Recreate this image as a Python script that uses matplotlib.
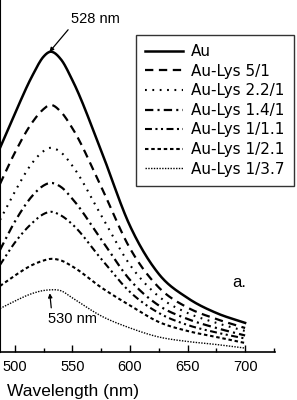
import numpy as np
import matplotlib
matplotlib.use('Agg')
import matplotlib.pyplot as plt
from matplotlib.ticker import MultipleLocator

plt.rcParams['font.family'] = ['Liberation Sans', 'DejaVu Sans']
plt.rcParams['lines.scale_dashes'] = False

# wavelength grid (nm) and absorbance (arbitrary units)
wl = [487, 500, 515, 525, 530, 540, 550, 575, 600, 625, 650, 675, 700]
au = [0.68, 0.795, 0.92, 0.985, 1.0, 0.975, 0.905, 0.67, 0.42, 0.26, 0.18, 0.13, 0.097]
lys_5_1 = [0.56, 0.665, 0.765, 0.81, 0.823, 0.80, 0.745, 0.55, 0.345, 0.215, 0.148, 0.11, 0.08]
lys_2_2 = [0.44, 0.535, 0.63, 0.67, 0.68, 0.665, 0.62, 0.455, 0.29, 0.185, 0.13, 0.097, 0.07]
lys_1_4 = [0.34, 0.435, 0.52, 0.555, 0.563, 0.55, 0.51, 0.375, 0.24, 0.155, 0.11, 0.08, 0.055]
lys_1_1 = [0.29, 0.365, 0.43, 0.46, 0.467, 0.455, 0.425, 0.31, 0.2, 0.13, 0.09, 0.065, 0.045]
lys_2_1 = [0.22, 0.255, 0.29, 0.305, 0.31, 0.305, 0.285, 0.215, 0.155, 0.10, 0.07, 0.05, 0.03]
lys_3_7 = [0.145, 0.17, 0.195, 0.205, 0.207, 0.204, 0.18, 0.12, 0.08, 0.05, 0.035, 0.025, 0.013]

labels = ['Au', 'Au-Lys 5/1', 'Au-Lys 2.2/1', 'Au-Lys 1.4/1',
          'Au-Lys 1/1.1', 'Au-Lys 1/2.1', 'Au-Lys 1/3.7']
series = [au, lys_5_1, lys_2_2, lys_1_4, lys_1_1, lys_2_1, lys_3_7]
styles = [
    ('-', 1.8),
    ((0, (6, 4)), 1.6),
    ((0, (1.3, 4)), 1.5),
    ((0, (6, 3, 1.5, 3)), 1.6),
    ((0, (5, 2.5, 1.5, 2.5, 1.5, 2.5)), 1.5),
    ((0, (2.5, 2)), 1.5),
    ((0, (1, 1)), 1.0),
]


def smooth(x, y):
    # cubic hermite through the read points
    x = np.asarray(x, float)
    y = np.asarray(y, float)
    xs = np.linspace(x[0], x[-1], 300)
    ys = np.empty_like(xs)
    m = np.gradient(y, x)
    for i in range(len(x) - 1):
        sel = (xs >= x[i]) & (xs <= x[i + 1])
        h = x[i + 1] - x[i]
        t = (xs[sel] - x[i]) / h
        h00 = 2 * t**3 - 3 * t**2 + 1
        h10 = t**3 - 2 * t**2 + t
        h01 = -2 * t**3 + 3 * t**2
        h11 = t**3 - t**2
        ys[sel] = h00 * y[i] + h10 * h * m[i] + h01 * y[i + 1] + h11 * h * m[i + 1]
    return xs, ys


fig = plt.figure(figsize=(2.97, 4.0), dpi=100)
ax = fig.add_axes([0.0, 0.12, 0.926, 0.88])

for y, lab, (ls, lw) in zip(series, labels, styles):
    xs, ys = smooth(wl, y)
    ax.plot(xs, ys, color='black', linestyle=ls, linewidth=lw, label=lab)

ax.set_xlim(487, 726)
ax.set_ylim(0, 1.173)
ax.spines['top'].set_visible(False)
ax.spines['right'].set_visible(False)
ax.spines['bottom'].set_linewidth(1.2)
ax.spines['left'].set_linewidth(0.8)
ax.xaxis.set_major_locator(MultipleLocator(50))
ax.xaxis.set_minor_locator(MultipleLocator(25))
ax.tick_params(axis='x', which='both', direction='in', labelsize=10.5, pad=6)
ax.tick_params(axis='x', which='major', length=5, width=1)
ax.tick_params(axis='x', which='minor', length=3, width=1)
ax.set_yticks([])
ax.set_xlabel('Wavelength (nm)', fontsize=12.5)
ax.xaxis.set_label_coords(0.025, -0.125)
ax.xaxis.label.set_horizontalalignment('left')
ax.xaxis.label.set_verticalalignment('baseline')

ax.annotate('528 nm', xy=(530, 1.0), xytext=(549, 1.11), fontsize=10.5,
            ha='left', va='center',
            arrowprops=dict(arrowstyle='-|>', color='black', lw=0.9,
                            mutation_scale=6, shrinkA=1, shrinkB=0,
                            relpos=(0, 0)))
ax.annotate('530 nm', xy=(530, 0.205), xytext=(528.5, 0.11), fontsize=10.5,
            ha='left', va='center',
            arrowprops=dict(arrowstyle='-|>', color='black', lw=0.9,
                            mutation_scale=6, shrinkA=1, shrinkB=2,
                            relpos=(0.08, 1)))
ax.text(689, 0.23, 'a.', fontsize=12, ha='left', va='center')

leg = ax.legend(loc='upper left', bbox_to_anchor=(0.458, 0.9125),
                bbox_transform=fig.transFigure,
                prop={'family': 'DejaVu Sans', 'size': 11},
                frameon=True, fancybox=False, edgecolor='black',
                handlelength=2.5, handletextpad=0.5, labelspacing=0.3,
                borderpad=0.6, borderaxespad=0)
leg.get_frame().set_linewidth(1.0)

fig.savefig('out.png', dpi=100)
